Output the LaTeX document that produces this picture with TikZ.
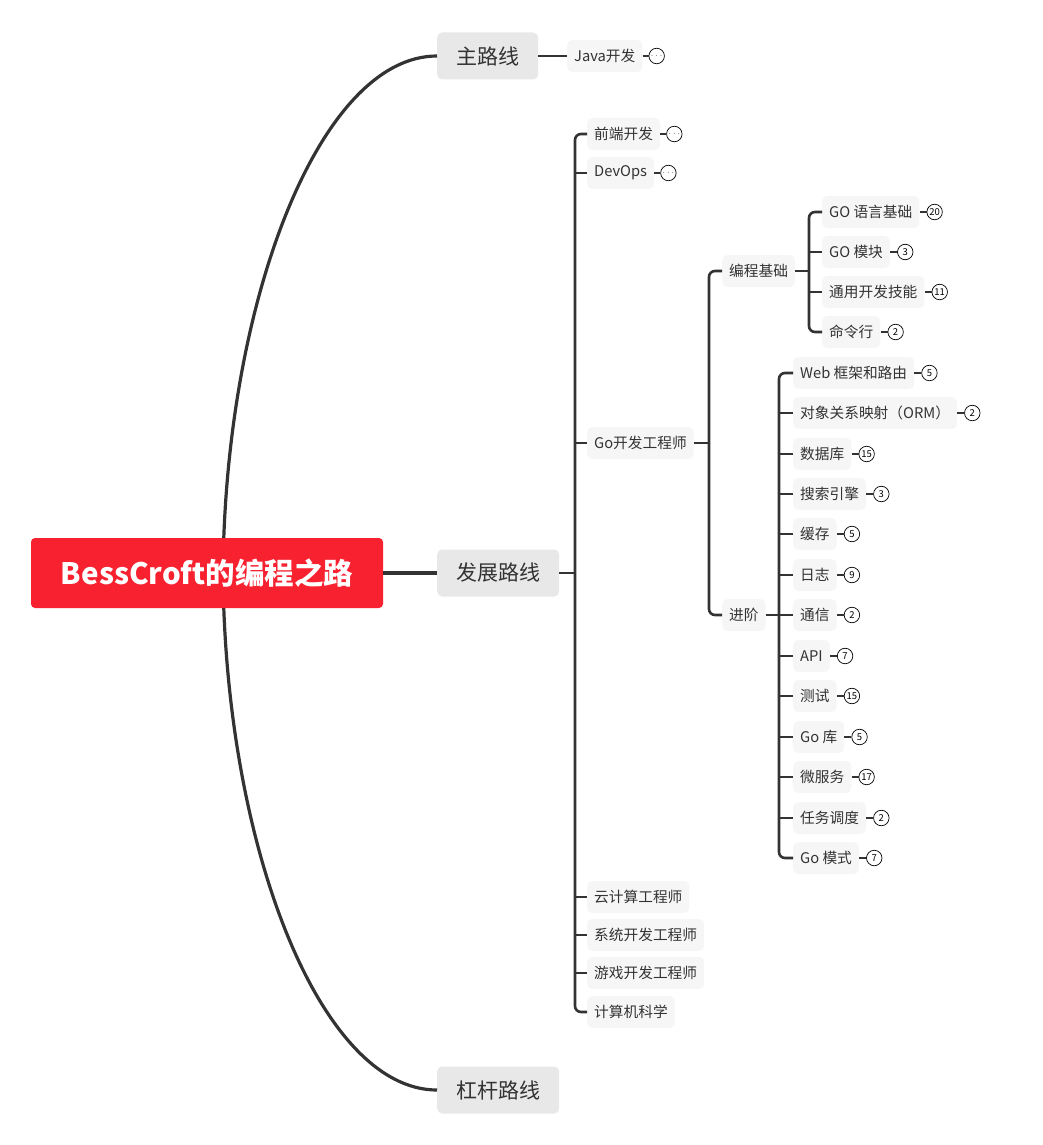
\documentclass[tikz,border=0pt]{standalone}
\usepackage{fontspec}
\setmainfont{Noto Sans CJK SC}
\usepackage{xcolor}
\usetikzlibrary{positioning}
\definecolor{rootred}{HTML}{F8212F}
\definecolor{maingray}{HTML}{E8E8E8}
\definecolor{subgray}{HTML}{F6F6F6}
\definecolor{textgray}{HTML}{333333}
\definecolor{linegray}{HTML}{333333}
\newcommand{\moredots}{{\fontsize{4.5}{5}\selectfont ···}}
\tikzset{
  rootbox/.style={fill=rootred, rounded corners=4pt, text=white, font=\fontsize{29.5}{33}\selectfont\bfseries, minimum width=352pt, minimum height=70pt, inner sep=0pt},
  mainbox/.style={fill=maingray, rounded corners=5pt, text=textgray, font=\fontsize{21}{24}\selectfont, minimum height=47pt, inner xsep=19pt, inner ysep=0pt, anchor=west},
  subbox/.style={fill=subgray, rounded corners=5pt, text=textgray, font=\fontsize{14.7}{16}\selectfont, minimum height=32pt, inner xsep=7pt, inner ysep=0pt, anchor=west},
  countdot/.style={circle, draw=black, line width=0.7pt, fill=white, minimum size=15.5pt, inner sep=0pt, font=\fontsize{9.5}{10}\selectfont, text=black},
  link/.style={draw=linegray, line width=2.6pt},
  branch/.style={link, rounded corners=6pt},
}
\begin{document}
\begin{tikzpicture}[x=1pt,y=-1pt]
		\useasboundingbox (0,0) rectangle (1042,1145);
		\node[mainbox] (zhu) at (437,56) {主路线};
		\node[mainbox] (fazhan) at (437,573) {发展路线};
		\node[mainbox] (ganggan) at (437,1090) {杠杆路线};
		\coordinate (rootc) at (223,573);
		\draw[link, line width=3.2pt] (rootc) .. controls (225,300) and (320,56) .. (zhu.west);
		\draw[link, line width=3.2pt] (rootc) .. controls (225,846) and (320,1090) .. (ganggan.west);
		\node[rootbox] (root) at (207,573) {BessCroft的编程之路};
		\draw[link, line width=3.2pt] (root.east) -- (fazhan.west);
		% MAIN ROUTE
		\node[subbox] (java) at (567,56) {Java开发};
		\node[countdot, right=6pt of java] (javadot) {\moredots};
		\draw[link] (zhu.east) -- (java.west);
		\draw[link] (java.east) -- (javadot.west);
		% GROWTH ROUTE
		\node[subbox] (qianduan) at (587,134) {前端开发};
		\node[countdot, right=6pt of qianduan] (qianduandot) {\moredots};
		\node[subbox] (devops) at (587,173) {DevOps};
		\node[countdot, right=6pt of devops] (devopsdot) {\moredots};
		\node[subbox] (goeng) at (587,443) {Go开发工程师};
		\node[subbox] (yun) at (587,897) {云计算工程师};
		\node[subbox] (xitong) at (587,935) {系统开发工程师};
		\node[subbox] (youxi) at (587,973) {游戏开发工程师};
		\node[subbox] (jisuanji) at (587,1012) {计算机科学};
		\coordinate (fzbar) at (575,573);
		\draw[link] (fazhan.east) -- (fzbar);
		\draw[branch] (qianduan.west) -| (fzbar) |- (jisuanji.west);
		\draw[link] (devops.west) -- (devops.west -| fzbar);
		\draw[link] (goeng.west) -- (goeng.west -| fzbar);
		\draw[link] (yun.west) -- (yun.west -| fzbar);
		\draw[link] (xitong.west) -- (xitong.west -| fzbar);
		\draw[link] (youxi.west) -- (youxi.west -| fzbar);
		\draw[link] (qianduan.east) -- (qianduandot.west);
		\draw[link] (devops.east) -- (devopsdot.west);
		% GO ENGINEER
		\node[subbox] (jichu) at (722,271) {编程基础};
		\node[subbox] (jinjie) at (722,615) {进阶};
		\coordinate (gobar) at (709,443);
		\draw[link] (goeng.east) -- (gobar);
		\draw[branch] (jichu.west) -| (gobar) |- (jinjie.west);
		% BASICS
		\node[subbox] (yuyan) at (822,212) {GO 语言基础};
		\node[countdot, right=7pt of yuyan] (yuyandot) {20};
		\node[subbox] (mokuai) at (822,252) {GO 模块};
		\node[countdot, right=7pt of mokuai] (mokuaidot) {3};
		\node[subbox] (tongyong) at (822,292) {通用开发技能};
		\node[countdot, right=7pt of tongyong] (tongyongdot) {11};
		\node[subbox] (minling) at (822,332) {命令行};
		\node[countdot, right=7pt of minling] (minlingdot) {2};
		\coordinate (jcbar) at (809,271);
		\draw[link] (jichu.east) -- (jcbar);
		\draw[branch] (yuyan.west) -| (jcbar) |- (minling.west);
		\draw[link] (mokuai.west) -- (mokuai.west -| jcbar);
		\draw[link] (tongyong.west) -- (tongyong.west -| jcbar);
		\draw[link] (yuyan.east) -- (yuyandot.west);
		\draw[link] (mokuai.east) -- (mokuaidot.west);
		\draw[link] (tongyong.east) -- (tongyongdot.west);
		\draw[link] (minling.east) -- (minlingdot.west);
		% ADVANCED
		\node[subbox] (web) at (793,373) {Web 框架和路由};
		\node[countdot, right=7pt of web] (webdot) {5};
		\node[subbox] (orm) at (793,413) {对象关系映射（ORM）};
		\node[countdot, right=7pt of orm] (ormdot) {2};
		\node[subbox] (shuju) at (793,454) {数据库};
		\node[countdot, right=7pt of shuju] (shujudot) {15};
		\node[subbox] (sousuo) at (793,494) {搜索引擎};
		\node[countdot, right=7pt of sousuo] (sousuodot) {3};
		\node[subbox] (huancun) at (793,534) {缓存};
		\node[countdot, right=7pt of huancun] (huancundot) {5};
		\node[subbox] (rizhi) at (793,575) {日志};
		\node[countdot, right=7pt of rizhi] (rizhidot) {9};
		\node[subbox] (tongxin) at (793,615) {通信};
		\node[countdot, right=7pt of tongxin] (tongxindot) {2};
		\node[subbox] (api) at (793,656) {API};
		\node[countdot, right=7pt of api] (apidot) {7};
		\node[subbox] (ceshi) at (793,696) {测试};
		\node[countdot, right=7pt of ceshi] (ceshidot) {15};
		\node[subbox] (goku) at (793,737) {Go 库};
		\node[countdot, right=7pt of goku] (gokudot) {5};
		\node[subbox] (weifuwu) at (793,777) {微服务};
		\node[countdot, right=7pt of weifuwu] (weifuwudot) {17};
		\node[subbox] (renwu) at (793,818) {任务调度};
		\node[countdot, right=7pt of renwu] (renwudot) {2};
		\node[subbox] (moshi) at (793,858) {Go 模式};
		\node[countdot, right=7pt of moshi] (moshidot) {7};
		\coordinate (jjbar) at (779,615);
		\draw[link] (jinjie.east) -- (jjbar);
		\draw[branch] (web.west) -| (jjbar) |- (moshi.west);
		\draw[link] (orm.west) -- (orm.west -| jjbar);
		\draw[link] (shuju.west) -- (shuju.west -| jjbar);
		\draw[link] (sousuo.west) -- (sousuo.west -| jjbar);
		\draw[link] (huancun.west) -- (huancun.west -| jjbar);
		\draw[link] (rizhi.west) -- (rizhi.west -| jjbar);
		\draw[link] (tongxin.west) -- (tongxin.west -| jjbar);
		\draw[link] (api.west) -- (api.west -| jjbar);
		\draw[link] (ceshi.west) -- (ceshi.west -| jjbar);
		\draw[link] (goku.west) -- (goku.west -| jjbar);
		\draw[link] (weifuwu.west) -- (weifuwu.west -| jjbar);
		\draw[link] (renwu.west) -- (renwu.west -| jjbar);
		\draw[link] (web.east) -- (webdot.west);
		\draw[link] (orm.east) -- (ormdot.west);
		\draw[link] (shuju.east) -- (shujudot.west);
		\draw[link] (sousuo.east) -- (sousuodot.west);
		\draw[link] (huancun.east) -- (huancundot.west);
		\draw[link] (rizhi.east) -- (rizhidot.west);
		\draw[link] (tongxin.east) -- (tongxindot.west);
		\draw[link] (api.east) -- (apidot.west);
		\draw[link] (ceshi.east) -- (ceshidot.west);
		\draw[link] (goku.east) -- (gokudot.west);
		\draw[link] (weifuwu.east) -- (weifuwudot.west);
		\draw[link] (renwu.east) -- (renwudot.west);
		\draw[link] (moshi.east) -- (moshidot.west);
	\end{tikzpicture}
\end{document}
